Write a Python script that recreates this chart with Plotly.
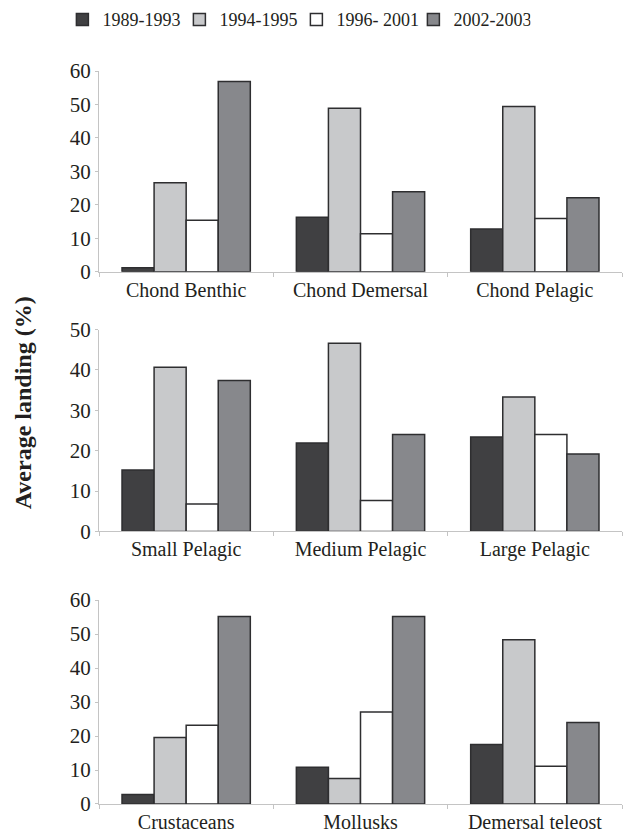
import plotly.graph_objects as go
from plotly.subplots import make_subplots

periods = ["1989-1993", "1994-1995", "1996- 2001", "2002-2003"]
colors = ["#404042", "#c8c9cb", "#ffffff", "#87888c"]

groups_top = ["Chond Benthic", "Chond Demersal", "Chond Pelagic"]
groups_mid = ["Small Pelagic", "Medium Pelagic", "Large Pelagic"]
groups_bot = ["Crustaceans", "Mollusks", "Demersal teleost"]

# values per period, ordered as the groups of each panel
top_vals = [
    [1.2, 16.3, 12.8],
    [26.6, 48.9, 49.4],
    [15.4, 11.4, 15.9],
    [56.9, 23.9, 22.1],
]
mid_vals = [
    [15.2, 21.9, 23.4],
    [40.7, 46.6, 33.3],
    [6.8, 7.7, 24.0],
    [37.4, 24.0, 19.2],
]
bot_vals = [
    [2.8, 10.8, 17.5],
    [19.6, 7.5, 48.3],
    [23.2, 27.1, 11.1],
    [55.2, 55.2, 24.0],
]

panels = [(groups_top, top_vals, 60), (groups_mid, mid_vals, 50), (groups_bot, bot_vals, 60)]

FONT = "Liberation Serif, Times New Roman, serif"
TXT = "#231f20"

fig = make_subplots(rows=3, cols=1, vertical_spacing=0.05)

for r, (cats, vals, ymax) in enumerate(panels, start=1):
    for i, name in enumerate(periods):
        fig.add_trace(
            go.Bar(
                x=cats,
                y=vals[i],
                name=name,
                marker=dict(color=colors[i], line=dict(color="#2e2e30", width=1.5)),
                showlegend=(r == 1),
                legendgroup=name,
            ),
            row=r,
            col=1,
        )
    fig.update_xaxes(
        row=r, col=1,
        type="category",
        showline=True, linecolor="#c4c4c4", linewidth=1,
        ticks="outside", tickson="boundaries", ticklen=4, tickcolor="#c4c4c4",
        showgrid=False,
        tickfont=dict(family=FONT, size=20, color=TXT),
    )
    fig.update_yaxes(
        row=r, col=1,
        range=[0, ymax], dtick=10,
        showline=True, linecolor="#c4c4c4", linewidth=1,
        ticks="outside", ticklen=3, tickcolor="#c4c4c4",
        showgrid=False, zeroline=False,
        tickfont=dict(family=FONT, size=21, color=TXT),
    )

# panel placement on the page
fig.update_layout(
    yaxis=dict(domain=[0.726, 1.0]),
    yaxis2=dict(domain=[0.3718, 0.6472]),
    yaxis3=dict(domain=[0.0, 0.2782]),
)

fig.add_annotation(
    text="<b>Average landing (%)</b>",
    xref="paper", yref="paper",
    x=-0.145, y=0.547,
    xanchor="center", yanchor="middle",
    textangle=-90, showarrow=False,
    font=dict(family=FONT, size=24, color=TXT),
)

fig.update_layout(
    width=623, height=838,
    margin=dict(l=99, r=1, t=67, b=34),
    paper_bgcolor="white", plot_bgcolor="white",
    barmode="group", bargap=0.264, bargroupgap=0,
    legend=dict(
        orientation="h",
        x=-0.07, xanchor="left",
        y=1.07, yanchor="middle",
        entrywidth=72, entrywidthmode="pixels",
        font=dict(family=FONT, size=18, color=TXT),
        bgcolor="rgba(0,0,0,0)",
    ),
    showlegend=True,
)

fig.write_html("out.html")
